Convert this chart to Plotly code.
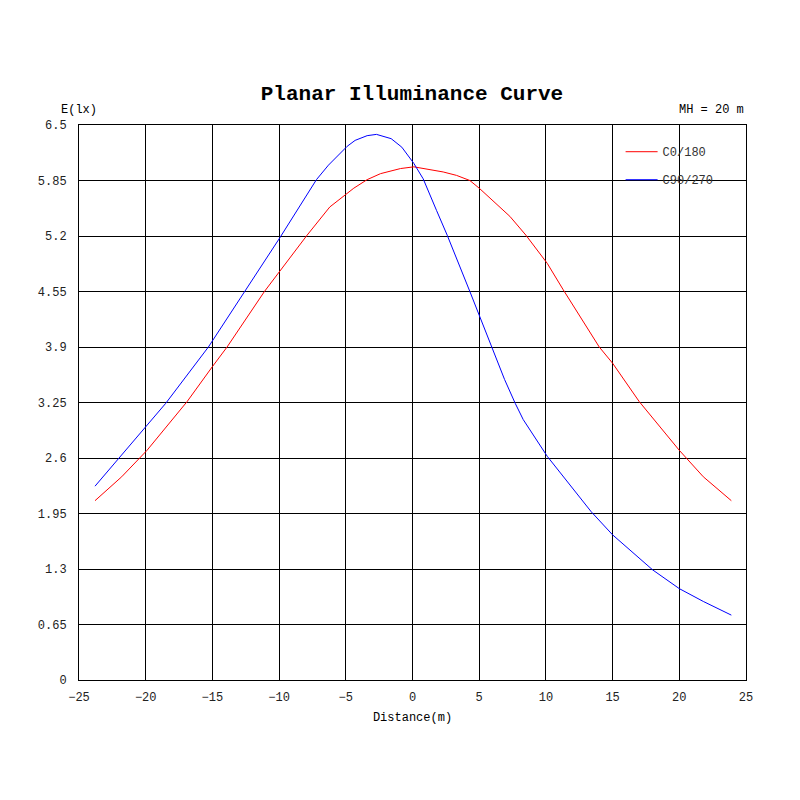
import plotly.graph_objects as go

# distance (m) and illuminance (lx)
dist_c0 = [-23.8, -21.8, -19.9, -18.5, -16.9, -15.0, -13.9, -11.1, -9.9, -7.9, -6.2,
           -4.4, -3.4, -2.4, -0.9, 0.1, 2.3, 3.3, 4.3, 5.0, 7.3, 8.5, 10.1, 11.3, 14.0,
           15.0, 17.0, 18.3, 20.0, 21.8, 23.9]
e_c0 = [2.10, 2.38, 2.69, 2.95, 3.26, 3.67, 3.90, 4.55, 4.80, 5.21, 5.54,
        5.76, 5.86, 5.93, 5.99, 6.01, 5.95, 5.91, 5.85, 5.76, 5.43, 5.21, 4.88, 4.57, 3.90,
        3.71, 3.26, 3.01, 2.69, 2.38, 2.10]

dist_c90 = [-23.8, -22.0, -19.9, -18.5, -15.3, -12.6, -9.9, -7.2, -6.3, -4.9, -4.3,
            -3.4, -2.7, -1.6, -0.8, 0.1, 0.8, 1.8, 2.6, 4.3, 5.0, 5.9, 6.9, 7.7, 8.3,
            10.1, 11.6, 13.4, 15.0, 18.0, 20.0, 21.8, 23.9]
e_c90 = [2.27, 2.60, 2.99, 3.24, 3.90, 4.55, 5.19, 5.86, 6.03, 6.25, 6.32,
         6.375, 6.39, 6.34, 6.24, 6.05, 5.87, 5.50, 5.21, 4.55, 4.27, 3.90, 3.52, 3.24, 3.05,
         2.62, 2.32, 1.97, 1.70, 1.29, 1.07, 0.92, 0.76]

x_ticks = [-25, -20, -15, -10, -5, 0, 5, 10, 15, 20, 25]
y_ticks = [0, 0.65, 1.3, 1.95, 2.6, 3.25, 3.9, 4.55, 5.2, 5.85, 6.5]
y_labels = ["0", "0.65", "1.3", "1.95", "2.6", "3.25", "3.9", "4.55", "5.2", "5.85", "6.5"]

FONT = "Liberation Mono, Courier New, monospace"

fig = go.Figure()
fig.add_trace(go.Scatter(x=dist_c0, y=e_c0, mode="lines", name="C0/180", legendgroup="a",
                         line=dict(color="#ff0000", width=1)))
fig.add_trace(go.Scatter(x=dist_c90, y=e_c90, mode="lines", name="C90/270", legendgroup="b",
                         line=dict(color="#0000ff", width=1)))

# page body adds 8px offset, margins are compensated for that
fig.update_layout(
    width=800, height=800,
    paper_bgcolor="white", plot_bgcolor="white",
    margin=dict(l=71, r=62, t=117, b=128),
    font=dict(family=FONT, size=12, color="black"),
    title=dict(text="<b>Planar Illuminance Curve</b>", x=0.505, xanchor="center",
               y=0.894, yanchor="middle", font=dict(family=FONT, size=21, color="black")),
    showlegend=True,
    legend=dict(x=0.812, y=0.978, xanchor="left", yanchor="top", bgcolor="rgba(0,0,0,0)",
                itemwidth=32,
                font=dict(family=FONT, size=12, color="#333"), tracegroupgap=9),
)
fig.update_xaxes(range=[-25, 25], tickvals=x_ticks, showgrid=True, gridcolor="black",
                 gridwidth=1, zeroline=False, showline=True, linecolor="black",
                 mirror=True, ticks="outside", ticklen=6, tickcolor="rgba(0,0,0,0)",
                 tickfont=dict(family=FONT, size=12, color="#222"),
                 title=dict(text="Distance(m)", standoff=8, font=dict(family=FONT, size=12)))
fig.update_yaxes(range=[0, 6.5], tickvals=y_ticks, ticktext=y_labels, showgrid=True,
                 gridcolor="black", gridwidth=1, zeroline=False, showline=True,
                 linecolor="black", mirror=True, ticks="outside", ticklen=9,
                 tickcolor="rgba(0,0,0,0)",
                 tickfont=dict(family=FONT, size=12, color="#222"))

fig.add_annotation(text="E(lx)", xref="paper", yref="paper", x=-0.03, y=1.0,
                   xanchor="left", yanchor="bottom", yshift=6, showarrow=False,
                   font=dict(family=FONT, size=12, color="black"))
fig.add_annotation(text="MH = 20 m", xref="paper", yref="paper", x=1.0, y=1.0,
                   xanchor="right", yanchor="bottom", yshift=6, showarrow=False,
                   font=dict(family=FONT, size=12, color="black"))

fig.write_html("out.html")
